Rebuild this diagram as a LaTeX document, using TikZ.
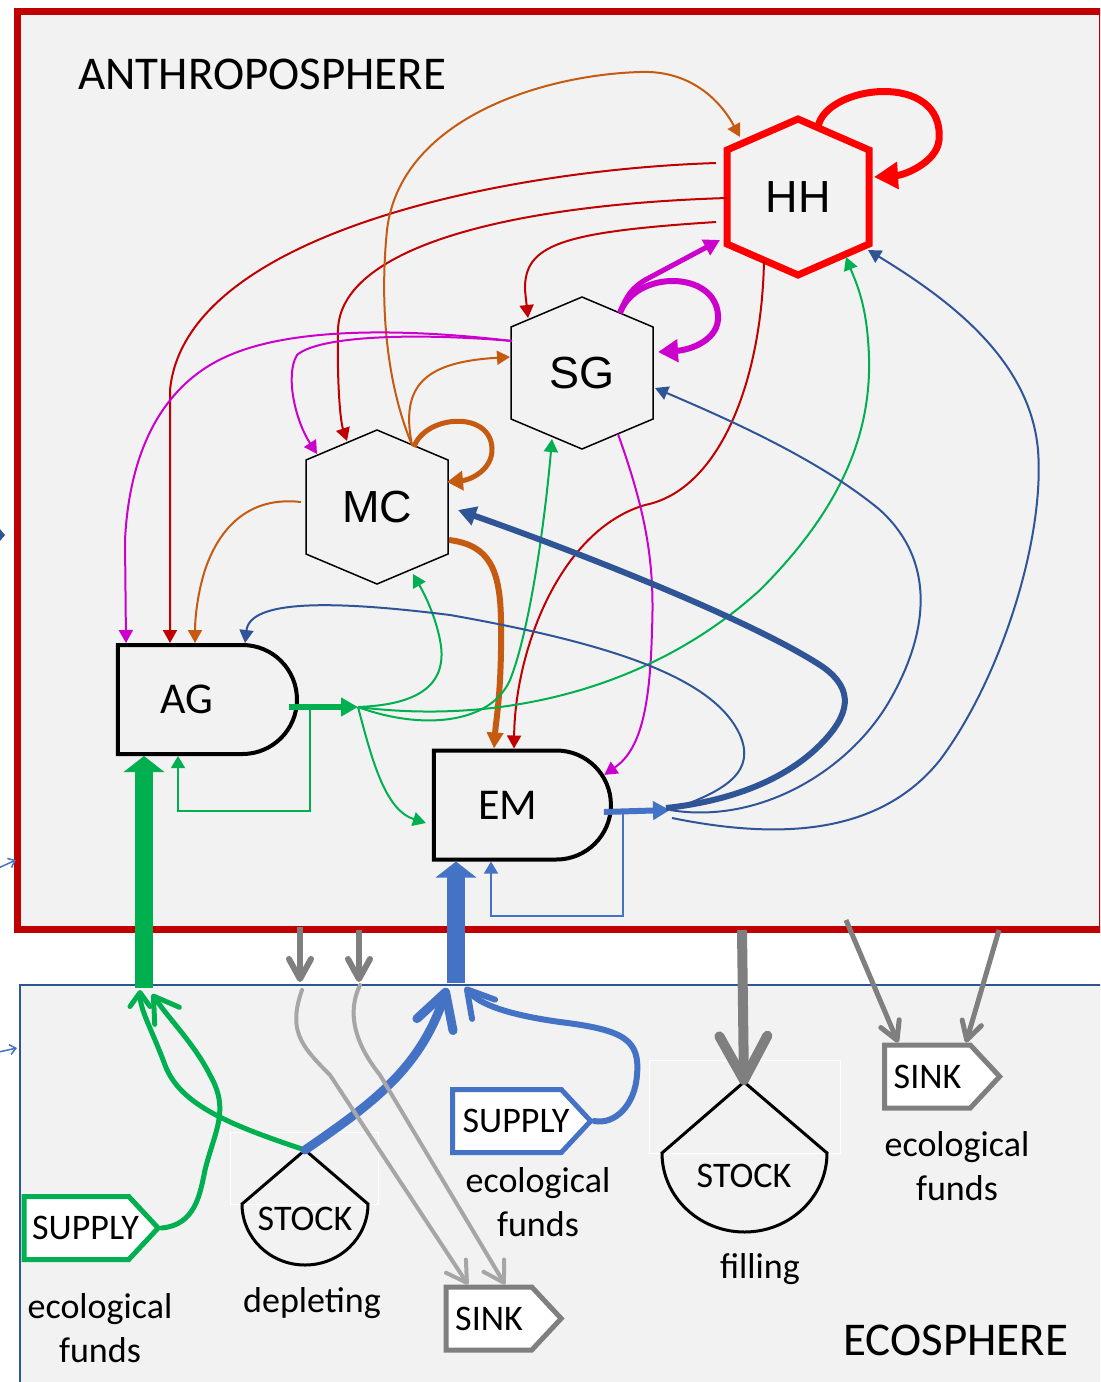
\documentclass[tikz,border=0pt]{standalone}
\usepackage{fontspec}
\setmainfont{Carlito}
\newfontfamily\arialfont{Liberation Sans}
\usetikzlibrary{calc,arrows.meta,shapes.misc,shapes.symbols}
\definecolor{bgray}{RGB}{242,242,242}
\definecolor{anthred}{RGB}{192,0,0}
\definecolor{hhred}{RGB}{255,0,0}
\definecolor{ecoblue}{RGB}{47,85,151}
\definecolor{ltblue}{RGB}{68,114,196}
\definecolor{orng}{RGB}{197,90,17}
\definecolor{mgnt}{RGB}{204,0,204}
\definecolor{grn}{RGB}{0,176,80}
\definecolor{dgray}{RGB}{127,127,127}
\definecolor{lgray}{RGB}{166,166,166}
\tikzset{
  sphere/.style={font=\fontsize{23.5}{28}\selectfont,inner sep=0pt},
  hexlabel/.style={font=\arialfont\fontsize{22.5}{27}\selectfont,inner sep=0pt},
  hexline/.style={black,line width=0.75pt,line join=miter},
  hhline/.style={hhred,line width=3.5pt,line join=miter},
  sector/.style={rounded rectangle,rounded rectangle left arc=none,draw=black,
    line width=2pt,fill=bgray,minimum height=54.5pt,inner sep=0pt,
    font=\fontsize{22}{26}\selectfont},
  fundbox/.style={signal,signal pointer angle=94,fill=white,line width=2.5pt,
    inner ysep=2pt,minimum height=31.5pt,font=\fontsize{18}{21}\selectfont},
  stockline/.style={black,line width=1.5pt,line join=miter},
  stocktext/.style={font=\fontsize{18}{21}\selectfont,inner sep=0pt},
  fundtext/.style={font=\fontsize{18}{22}\selectfont,align=center,inner sep=0pt},
  flow/.style={line width=1pt,-{Triangle[length=6.5pt,width=7pt]}},
  fback/.style={line width=0.75pt,-{Triangle[length=6pt,width=7pt]}},
  outflow/.style={line width=3pt,-{Triangle[length=8.5pt,width=9pt]}},
  bigin/.style={line width=9pt,-{Triangle[length=8pt,width=20pt]}},
}
\begin{document}
\begin{tikzpicture}[x=0.5pt,y=-0.5pt]
  \useasboundingbox (0,0) rectangle (1100,1382);
  \clip (0,0) rectangle (1100,1382);
  \fill[white] (0,0) rectangle (1100,1382);
  % ---- the two spheres ----
  \fill[bgray] (17,11) rectangle (1102,929);
  \draw[anthred,line width=3.5pt] (17,11) rectangle (1102,929);
  \fill[bgray] (20,985) rectangle (1110,1400);
  \draw[ecoblue,line width=1pt] (20,985) rectangle (1110,1400);
  \node[sphere,anchor=base west] (anthro) at (78,89) {ANTHROPOSPHERE};
  \node[sphere,anchor=base west] (eco) at (843,1355) {ECOSPHERE};
  % cut-off tips at the left edge
  \fill[ecoblue] (0,529) -- (5,535) -- (0,541) -- cycle;
  \draw[ltblue,line width=0.75pt,-{Straight Barb[length=3pt,width=5pt]}] (-6,870) -- (16,860);
  \draw[ltblue,line width=0.75pt,-{Straight Barb[length=3pt,width=5pt]}] (-6,1053) -- (17,1048);
  % ---- sectors ----
  \node[hexlabel] (HH) at (798,197) {HH};
  \draw[hhline] ($(HH)+(0,-78)$) -- ++(71,31) -- ++(0,94) -- ++(-71,31)
    -- ++(-71,-31) -- ++(0,-94) -- cycle;
  \node[hexlabel] (SG) at (582,373) {SG};
  \draw[hexline] ($(SG)+(0,-76)$) -- ++(71,30) -- ++(0,92) -- ++(-71,30)
    -- ++(-71,-30) -- ++(0,-92) -- cycle;
  \node[hexlabel] (MC) at (377,507) {MC};
  \draw[hexline] ($(MC)+(0,-77)$) -- ++(71,30) -- ++(0,94) -- ++(-71,30)
    -- ++(-71,-30) -- ++(0,-94) -- cycle;
  \node[sector,minimum width=89.5pt] (AG) at (206.5,699.5) {AG\kern19.5pt};
  \node[sector,minimum width=88.5pt] (EM) at (521.5,805) {EM\kern13.5pt};
  \coordinate (agout) at (358,707);
  \coordinate (emout) at (670,810);
  % ---- from HH ----
  \draw[flow,anthred] ($(HH)+(-82,-34)$) .. controls (500,170) and (185,235) .. (170,390)
    -- ($(AG.north)+(-36.5,0)$);
  \draw[flow,anthred] ($(HH)+(-71,1)$) .. controls (500,205) and (340,250) .. (338,330)
    .. controls (337,380) and (340,420) .. ($(MC)+(-30,-66)$);
  \draw[flow,anthred] ($(HH)+(-82,25)$) .. controls (560,232) and (524,245) .. (525,290)
    -- ($(SG)+(-54,-55)$);
  \draw[flow,anthred] ($(HH)+(-34,63)$) .. controls (762,380) and (720,490) .. (645,505)
    .. controls (560,530) and (515,650) .. ($(EM.north)+(-7.5,0)$);
  \draw[line width=3.5pt,hhred,-{Triangle[length=12pt,width=13pt]}] ($(HH)+(20,-70)$)
    .. controls (825,85) and (945,70) .. (939,140)
    .. controls (937,162) and (905,175) .. ($(HH)+(76,-20)$);
  % ---- from MC ----
  \draw[flow,orng] ($(MC)+(35,-62)$) .. controls (385,380) and (380,300) .. (387,230)
    .. controls (400,120) and (540,75) .. (640,72)
    .. controls (690,70) and (720,100) .. ($(HH)+(-58,-60)$);
  \draw[flow,orng] ($(MC)+(35,-62)$) .. controls (400,385) and (425,362) .. ($(SG)+(-72,-16)$);
  \draw[line width=2.5pt,orng,-{Triangle[length=8pt,width=9.5pt]}] ($(MC)+(37,-60)$)
    .. controls (425,415) and (490,410) .. (492,448)
    .. controls (493,470) and (470,480) .. ($(MC)+(70,-25)$);
  \draw[flow,orng] ($(MC)+(-76,-5)$) .. controls (240,495) and (215,540) .. (205,570)
    .. controls (197,595) and (195,620) .. ($(AG.north)+(-11.5,0)$);
  \draw[line width=3pt,orng,-{Triangle[length=8pt,width=8pt]}] ($(MC)+(72,33)$)
    .. controls (490,545) and (500,570) .. (501,620)
    .. controls (502,690) and (496,720) .. ($(EM.north)+(-27.5,0)$);
  % ---- from SG ----
  \draw[flow,mgnt] ($(SG)+(-70,-32)$) .. controls (420,330) and (300,325) .. (230,355)
    .. controls (170,380) and (130,440) .. (125,540) -- ($(AG.north)+(-80.5,0)$);
  \draw[flow,mgnt] ($(SG)+(-70,-32)$) .. controls (420,333) and (320,335) .. (297,355)
    .. controls (285,375) and (295,420) .. ($(MC)+(-60,-53)$);
  \draw[flow,mgnt] ($(SG)+(36,61)$) .. controls (645,510) and (655,560) .. (652,630)
    .. controls (650,710) and (640,750) .. (EM.20);
  \draw[line width=3pt,mgnt,-{Triangle[length=10pt,width=11pt]}] ($(SG)+(38,-60)$)
    .. controls (635,270) and (715,270) .. (718,315)
    .. controls (720,340) and (690,350) .. ($(SG)+(76,-21)$);
  \draw[line width=2.5pt,mgnt,-{Triangle[length=8pt,width=8.5pt]}] ($(SG)+(38,-60)$)
    .. controls (626,296) and (632,288) .. (645,280) -- ($(HH)+(-78,43)$);
  % ---- from AG ----
  \draw[outflow,grn] ($(AG.east)+(-10,7.5)$) -- (agout);
  \draw[fback,grn] ($(AG.east)+(11,7.5)$) -- ++(0,104) -| ($(AG.south)+(-28.5,0)$);
  \draw[flow,grn] (agout) .. controls (410,705) and (450,690) .. (440,640)
    .. controls (435,615) and (425,595) .. ($(MC)+(36,67)$);
  \draw[flow,grn] (agout) .. controls (420,730) and (490,725) .. (510,680)
    .. controls (530,630) and (545,520) .. ($(SG)+(-30,66)$);
  \draw[flow,grn] (agout) .. controls (500,725) and (650,690) .. (760,590)
    .. controls (850,500) and (875,420) .. (868,340)
    .. controls (865,300) and (855,280) .. ($(HH)+(48,60)$);
  \draw[flow,grn] (agout) .. controls (372,760) and (385,810) .. ($(EM.west)+(-6,18)$);
  % ---- from EM ----
  \draw[outflow,ltblue] ($(EM.east)+(-9,7)$) -- (emout);
  \draw[fback,ltblue] ($(EM.east)+(10,7)$) -- ++(0,104) -| ($(EM.south)+(-30.5,0)$);
  \draw[line width=3pt,ecoblue,-{Triangle[length=9pt,width=9.5pt]}] ($(emout)+(-4,-2)$)
    .. controls (740,800) and (790,775) .. (820,745)
    .. controls (850,715) and (855,690) .. (823,667)
    .. controls (760,625) and (600,560) .. ($(MC)+(81,3)$);
  \draw[flow,ecoblue] (emout) .. controls (730,790) and (755,770) .. (740,735)
    .. controls (715,680) and (620,645) .. (450,615)
    .. controls (330,600) and (250,600) .. ($(AG.north)+(38.5,0)$);
  \draw[flow,ecoblue] (emout) .. controls (760,825) and (850,770) .. (890,700)
    .. controls (930,630) and (935,560) .. (880,510)
    .. controls (820,460) and (730,420) .. ($(SG)+(73,15)$);
  \draw[flow,ecoblue] ($(emout)+(2,8)$) .. controls (780,840) and (880,835) .. (940,760)
    .. controls (1000,680) and (1045,540) .. (1038,450)
    .. controls (1030,360) and (950,300) .. ($(HH)+(70,53)$);
  % ---- ecosphere ----
  \node[fundbox,draw=grn,inner xsep=0pt] (supG) at (76.5,1228) {\kern4pt SUPPLY\kern-5pt};
  \node[fundbox,draw=ltblue,inner xsep=0pt] (supB) at (507,1121) {\kern5pt SUPPLY\kern-4pt};
  \node[fundbox,draw=dgray,inner xsep=4.5pt] (sinkA) at (489,1318.5) {SINK};
  \node[fundbox,draw=dgray,inner xsep=4.5pt] (sinkB) at (927.5,1076.5) {SINK};
  \coordinate (dtop) at (305,1150);
  \draw[white,line width=0.5pt] (230,1132) rectangle (378,1204);
  \draw[stockline] (dtop) -- (242,1204) arc[start angle=180,end angle=360,x radius=31.5pt,y radius=30.5pt] -- cycle;
  \node[stocktext] (dstock) at (305,1219) {STOCK};
  \coordinate (ftop) at (744,1082);
  \draw[white,line width=0.5pt] (649,1060) rectangle (840,1153);
  \draw[stockline] (ftop) -- (662,1153) arc[start angle=180,end angle=360,x radius=41.25pt,y radius=39.5pt] -- cycle;
  \node[stocktext] (fstock) at (744,1176) {STOCK};
  \node[fundtext] (ecoG) at (100,1328) {ecological\\funds};
  \node[fundtext,anchor=base] (depl) at (312,1312) {depleting};
  \node[fundtext] (ecoB) at (538,1202) {ecological\\funds};
  \node[fundtext,anchor=base] (fill) at (760,1278) {filling};
  \node[fundtext] (ecoS) at (957,1166) {ecological\\funds};
  % ---- exchanges across the border ----
  \coordinate (gin) at (144,988);
  \coordinate (bin) at (456,983);
  \draw[bigin,grn] (gin) -- ($(AG.south)+(-62.5,0)$);
  \draw[bigin,ltblue] (bin) -- ($(EM.south)+(-65.5,0)$);
  \draw[grn,line width=2.5pt,line cap=round,-{Straight Barb[round,length=12pt,width=15pt]}]
    (supG.east) .. controls (195,1225) and (200,1195) .. (205,1170)
    .. controls (215,1130) and (230,1110) .. (210,1075)
    .. controls (195,1045) and (170,1020) .. ($(gin)+(8,6)$);
  \draw[grn,line width=2.5pt,line cap=round,-{Straight Barb[round,length=7pt,width=10pt]}]
    (dtop) .. controls (230,1125) and (180,1105) .. (165,1065)
    .. controls (152,1030) and (140,1010) .. ($(gin)+(-4,2)$);
  \draw[ltblue,line width=4.5pt,line cap=round,-{Straight Barb[round,length=17pt,width=19pt]}]
    (dtop) .. controls (370,1105) and (420,1070) .. ($(bin)+(-9,5)$);
  \draw[ltblue,line width=3pt,line cap=round,-{Straight Barb[round,length=13pt,width=15pt]}]
    (supB.east) .. controls (615,1125) and (635,1105) .. (637,1075)
    .. controls (640,1040) and (625,1030) .. (560,1022)
    .. controls (510,1015) and (480,1005) .. ($(bin)+(9,4)$);
  \coordinate (w1) at (300,927);
  \coordinate (w1e) at (300,982);
  \coordinate (w2) at (359,930);
  \coordinate (w2e) at (359,982);
  \coordinate (w3) at (742,930);
  \coordinate (w4) at (846,920);
  \coordinate (w5) at (999,930);
  \coordinate (l1) at (302,990);
  \coordinate (l2) at (360,985);
  \draw[dgray,line width=3pt,-{Straight Barb[round,length=10pt,width=11pt]}] (w1) -- (w1e);
  \draw[dgray,line width=3pt,-{Straight Barb[round,length=10pt,width=11pt]}] (w2) -- (w2e);
  \draw[dgray,line width=5pt,-{Straight Barb[round,length=22pt,width=24pt]}] (w3) -- ($(ftop)+(0,3)$);
  \draw[dgray,line width=2.5pt,-{Straight Barb[round,length=9pt,width=10pt]}] (w4) -- ($(sinkB.north)+(-29.5,0)$);
  \draw[dgray,line width=2.5pt,-{Straight Barb[round,length=9pt,width=10pt]}] (w5) -- ($(sinkB.north)+(38.5,0)$);
  \draw[lgray,line width=2pt,line cap=round,-{Straight Barb[round,length=10pt,width=12pt]}]
    (l1) .. controls (288,1030) and (300,1045) .. (330,1075) -- ($(sinkA.north)+(-21,0)$);
  \draw[lgray,line width=2pt,line cap=round,-{Straight Barb[round,length=10pt,width=12pt]}]
    (l2) .. controls (348,1010) and (352,1040) .. (380,1075) -- ($(sinkA.north)+(16,0)$);
\end{tikzpicture}
\end{document}
